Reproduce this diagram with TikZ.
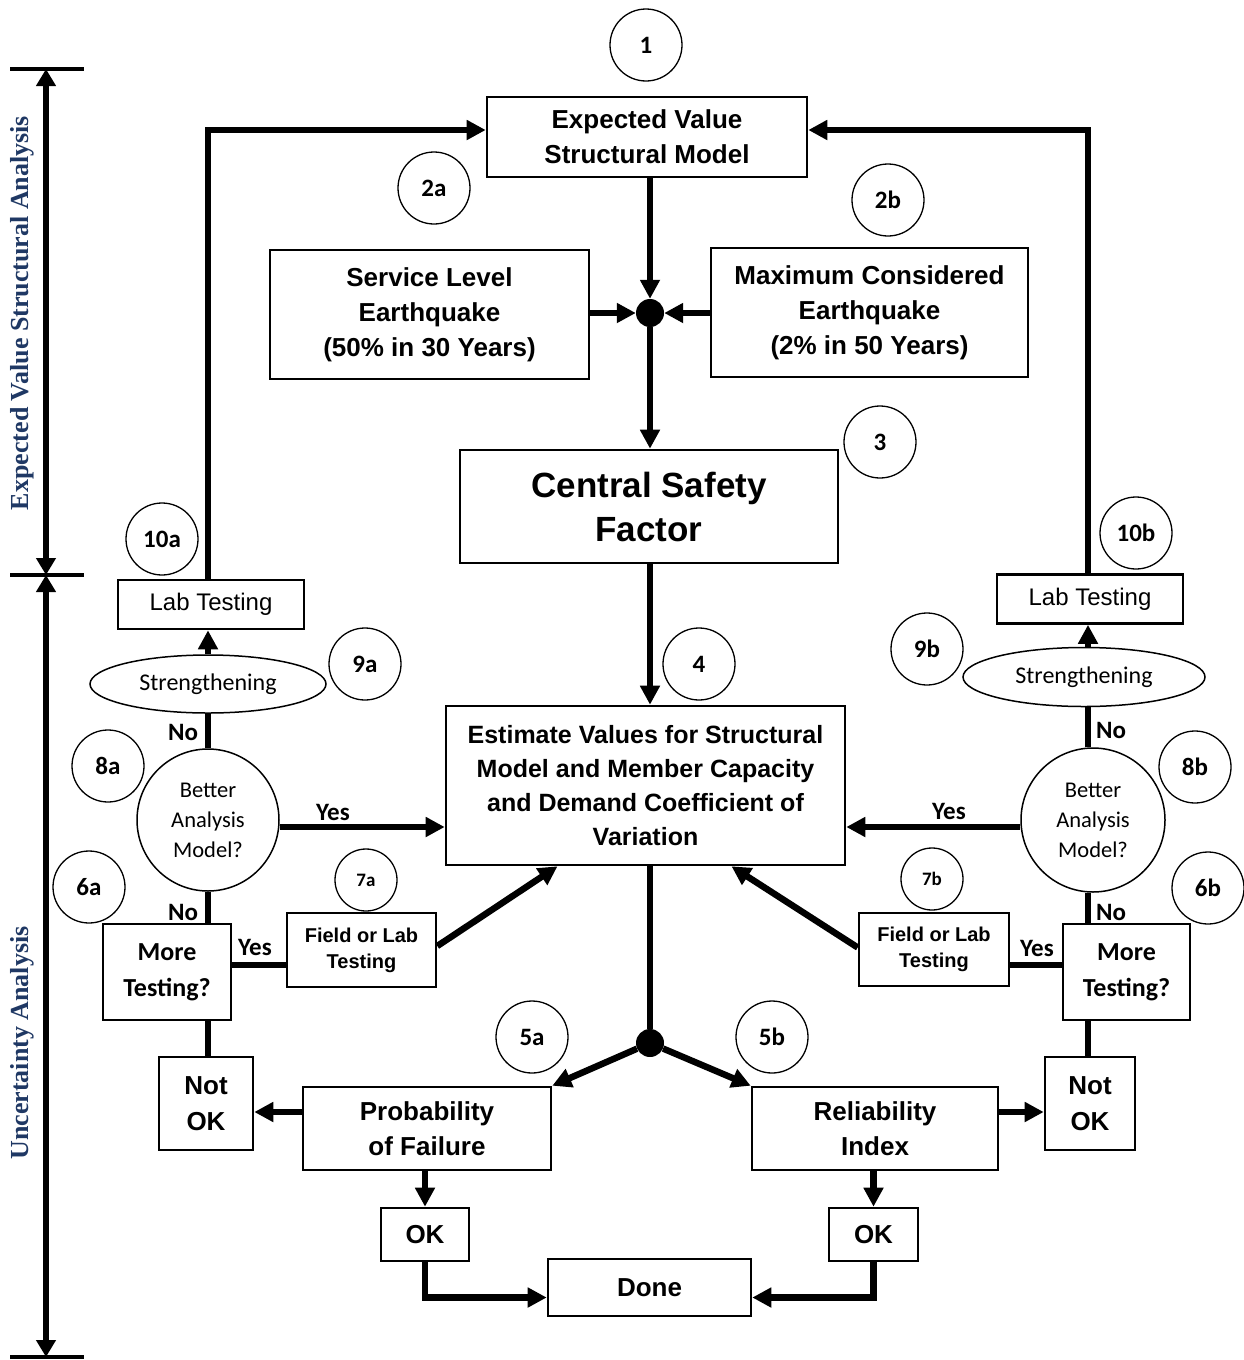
\documentclass[tikz,border=0pt]{standalone}
\usepackage{fontspec}
\setmainfont{Liberation Sans}
\newfontfamily\calfont{Carlito}
\newfontfamily\serfont{Liberation Serif}
\usetikzlibrary{arrows.meta,shapes.geometric,calc}
\newcommand\fsz[2]{\fontsize{#1}{#2}\selectfont}
\definecolor{navy}{RGB}{31,56,100}
\tikzset{
  box/.style={draw, line width=2.6pt, inner sep=0pt, align=center, font=\bfseries\fsz{26}{35}},
  thinbox/.style={draw, line width=1.5pt, inner sep=0pt, align=center},
  conn/.style={line width=6.5pt},
  arr/.style={conn, -{Triangle[length=19pt,width=19pt]}},
  numc/.style={circle, draw, line width=1.3pt, minimum size=72pt, inner sep=0pt, font=\calfont\bfseries\fsz{25}{25}},
  numsm/.style={numc, minimum size=62pt, font=\calfont\bfseries\fsz{19}{19}},
  dotn/.style={circle, fill=black, minimum size=28pt, inner sep=0pt},
  yn/.style={font=\calfont\bfseries\fsz{25}{25}, inner sep=0pt},
  axline/.style={line width=5.5pt, {Triangle[length=17pt,width=19pt]}-{Triangle[length=17pt,width=19pt]}},
  axtick/.style={line width=4pt},
  axlabel/.style={rotate=90, text=navy, font=\serfont\bfseries\fsz{26}{26}, inner sep=0pt}
}
\begin{document}
\begin{tikzpicture}[x=1pt,y=-1pt]
\useasboundingbox (0,0) rectangle (1244,1360);

% ---------- axis on the left ----------
\coordinate (t1) at (46,69);
\coordinate (t2) at (46,575);
\coordinate (t3) at (46,1357);
\draw[axtick] ([xshift=-36pt]t1) -- ([xshift=38pt]t1);
\draw[axtick] ([xshift=-36pt]t2) -- ([xshift=38pt]t2);
\draw[axtick] ([xshift=-36pt]t3) -- ([xshift=38pt]t3);
\draw[axline] (t1) -- (t2);
\draw[axline] (t2) -- (t3);
\node[axlabel] (axl1) at (22,313) {Expected Value Structural Analysis};
\node[axlabel] (axl2) at (22,1043) {Uncertainty Analysis};

% ---------- column coordinates ----------
\coordinate (cL) at (208,0);
\coordinate (cR) at (1088,0);
\coordinate (yA) at (0,827);
\coordinate (yB) at (0,965);
\coordinate (yN) at (0,1112);

% ---------- main boxes ----------
\node[box, minimum width=320pt, minimum height=80pt] (ev) at (647,137) {Expected Value\\Structural Model};
\node[box, minimum width=319pt, minimum height=129pt] (sle) at (429.5,314.5) {Service Level\\Earthquake\\(50\% in 30 Years)};
\node[box, minimum width=317pt, minimum height=129pt] (mce) at (869.5,312.5) {Maximum Considered\\Earthquake\\(2\% in 50 Years)};
\node[dotn] (dot1) at (650,313) {};
\node[box, minimum width=378pt, minimum height=113pt, font=\bfseries\fsz{35}{44}] (csf) at (649,506.5) {Central Safety\\Factor};
\node[box, minimum width=399pt, minimum height=159pt, font=\bfseries\fsz{25}{34}] (est) at (645.5,785.5) {Estimate Values for Structural\\Model and Member Capacity\\and Demand Coefficient of\\Variation};
\node[dotn] (dot2) at (650,1043) {};
\node[box, minimum width=248pt, minimum height=83pt] (pf) at (427,1128.5) {Probability\\of Failure};
\node[box, minimum width=246pt, minimum height=83pt] (ri) at (875,1128.5) {Reliability\\Index};
\node[box, minimum width=94pt, minimum height=93pt, font=\bfseries\fsz{26}{36}] (notL) at (206,1103.5) {Not\\OK};
\node[box, minimum width=90pt, minimum height=93pt, font=\bfseries\fsz{26}{36}] (notR) at (1090,1103.5) {Not\\OK};
\node[box, minimum width=88pt, minimum height=53pt] (okL) at (425,1234.5) {OK};
\node[box, minimum width=89pt, minimum height=53pt] (okR) at (873.5,1234.5) {OK};
\node[box, minimum width=203pt, minimum height=57pt] (done) at (649.5,1287.5) {Done};

% ---------- left branch ----------
\node[box, minimum width=186pt, minimum height=49pt, font=\fsz{24}{24}] (labL) at (211,604.5) {Lab Testing};
\node[thinbox, ellipse, minimum width=236pt, minimum height=58pt, font=\calfont\fsz{24}{24}] (strL) at (208,684) {Strengthening};
\node[thinbox, circle, minimum size=142pt, font=\calfont\fsz{22.5}{30}] (betL) at (208,820) {Better\\Analysis\\Model?};
\node[thinbox, minimum width=128pt, minimum height=96pt, font=\calfont\bfseries\fsz{26}{36}] (moreL) at (167,972) {More\\Testing?};
\node[box, minimum width=149pt, minimum height=74pt, font=\bfseries\fsz{20}{26}] (fldL) at (361.5,950) {Field or Lab\\Testing};

% ---------- right branch ----------
\node[box, minimum width=186pt, minimum height=49pt, font=\fsz{24}{24}] (labR) at (1090,599) {Lab Testing};
\node[thinbox, ellipse, minimum width=242pt, minimum height=59pt, font=\calfont\fsz{24}{24}] (strR) at (1084,677) {Strengthening};
\node[thinbox, circle, minimum size=144pt, font=\calfont\fsz{22.5}{30}] (betR) at (1093,820) {Better\\Analysis\\Model?};
\node[thinbox, minimum width=127pt, minimum height=96pt, font=\calfont\bfseries\fsz{26}{36}] (moreR) at (1126.5,972) {More\\Testing?};
\node[box, minimum width=150pt, minimum height=73pt, font=\bfseries\fsz{20}{26}] (fldR) at (934,949.5) {Field or Lab\\Testing};

% ---------- numbered circles ----------
\node[numc] (n1) at (646,45) {1};
\node[numc] (n2a) at (434,188) {2a};
\node[numc] (n2b) at (888,200) {2b};
\node[numc] (n3) at (880,442) {3};
\node[numc] (n4) at (699,664) {4};
\node[numc] (n5a) at (532,1037) {5a};
\node[numc] (n5b) at (772,1037) {5b};
\node[numc] (n6a) at (89,887) {6a};
\node[numc] (n6b) at (1208,888) {6b};
\node[numsm] (n7a) at (366,880) {7a};
\node[numsm] (n7b) at (932,879) {7b};
\node[numc] (n8a) at (108,766) {8a};
\node[numc] (n8b) at (1195,767) {8b};
\node[numc] (n9a) at (365,664) {9a};
\node[numc] (n9b) at (927,649) {9b};
\node[numc] (n10a) at (162,539) {10a};
\node[numc] (n10b) at (1136,533) {10b};

% ---------- connectors: top ----------
\draw[arr] (labL.north -| cL) |- ([yshift=7pt]ev.west);
\draw[arr] (labR.north -| cR) |- ([yshift=7pt]ev.east);
\draw[arr] (ev.south -| dot1) -- (dot1.north);
\draw[arr] (sle.east |- dot1) -- (dot1.west);
\draw[arr] (mce.west |- dot1) -- (dot1.east);
\draw[arr] (dot1.south) -- (csf.north -| dot1);
\draw[arr] (csf.south -| dot1) -- (est.north -| dot1);

% ---------- connectors: bottom ----------
\draw[conn] (est.south -| dot2) -- (dot2.north);
\draw[arr] (dot2) -- (pf.north east);
\draw[arr] (dot2) -- (ri.north west);
\draw[arr] (pf.west |- yN) -- (notL.east |- yN);
\draw[arr] (ri.east |- yN) -- (notR.west |- yN);
\draw[arr] (pf.south -| okL) -- (okL.north);
\draw[arr] (ri.south -| okR) -- (okR.north);
\draw[arr] (okL.south) |- ([yshift=-10pt]done.west);
\draw[arr] (okR.south) |- ([yshift=-10pt]done.east);

% ---------- connectors: left branch ----------
\draw[conn] (moreL.south -| cL) -- (notL.north -| cL);
\draw[conn] (betL.south) -- (moreL.north -| cL);
\draw[conn] (betL.north) -- (strL.south);
\draw[arr] (strL.north) -- (labL.south -| cL);
\draw[arr] (betL.east |- yA) -- (est.west |- yA);
\draw[conn] (moreL.east |- yB) -- (fldL.west |- yB);
\draw[arr] ([yshift=4pt]fldL.east) -- ([xshift=-88pt]est.south);

% ---------- connectors: right branch ----------
\draw[conn] (moreR.south -| cR) -- (notR.north -| cR);
\draw[conn] (betR.south -| cR) -- (moreR.north -| cR);
\draw[conn] (betR.north -| cR) -- (strR.south -| cR);
\draw[arr] (strR.north -| cR) -- (labR.south -| cR);
\draw[arr] (betR.west |- yA) -- (est.east |- yA);
\draw[conn] (moreR.west |- yB) -- (fldR.east |- yB);
\draw[arr] ([yshift=2pt]fldR.west) -- ([xshift=86pt]est.south);

% ---------- Yes / No labels ----------
\node[yn] (noL1) at (183,732) {No};
\node[yn] (noL2) at (183,912) {No};
\node[yn] (noR1) at (1111,730) {No};
\node[yn] (noR2) at (1111,912) {No};
\node[yn] (yesL1) at (333,812) {Yes};
\node[yn] (yesL2) at (255,947) {Yes};
\node[yn] (yesR1) at (949,811) {Yes};
\node[yn] (yesR2) at (1037,948) {Yes};
\end{tikzpicture}
\end{document}
